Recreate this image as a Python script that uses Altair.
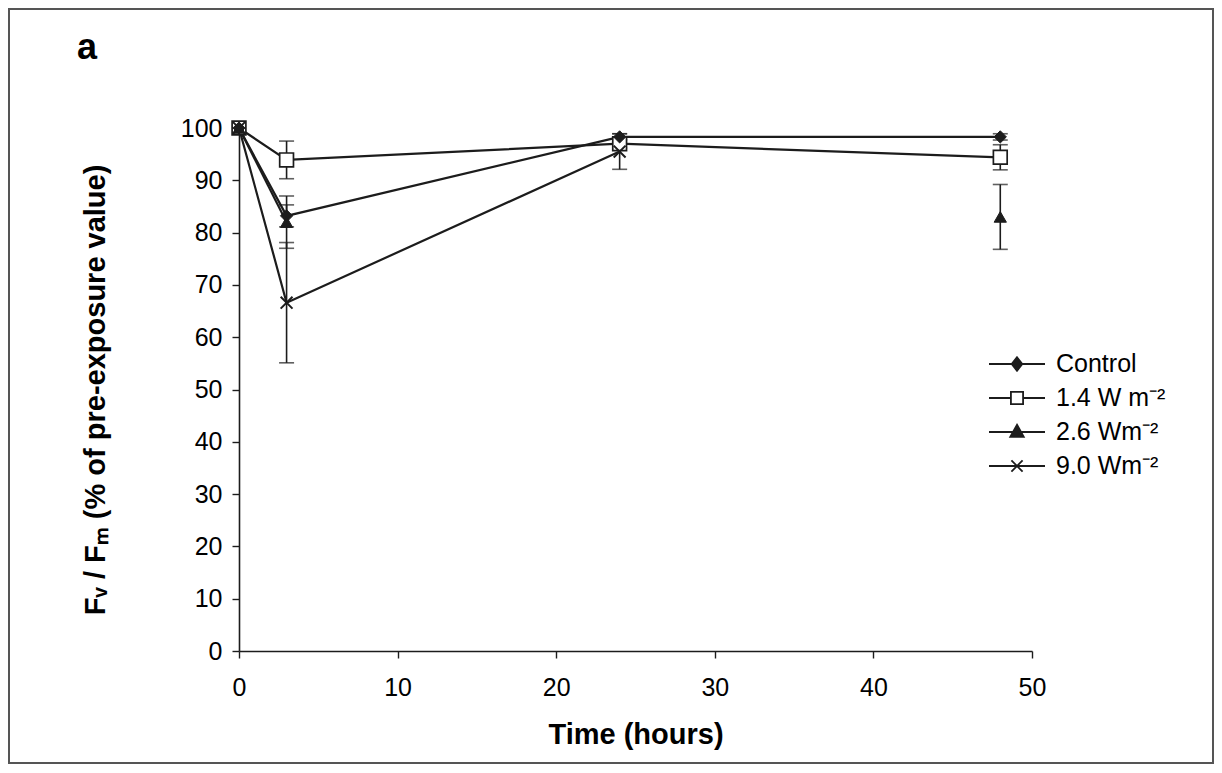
import altair as alt
import pandas as pd

# ---- data ----
times = [0, 3, 24, 48]
series_names = ["Control", "1.4 W m⁻²", "2.6 Wm⁻²", "9.0 Wm⁻²"]
control = [100, 83.2, 98.3, 98.3]
control_err = [0, 2.1, 0.6, 0.6]
w14 = [100, 93.9, 97.0, 94.4]
w14_err = [0, 3.6, 0.8, 2.4]
w26 = [100, 82.0, None, 83.0]
w26_err = [0, 5.0, None, 6.2]
w90 = [100, 66.6, 95.5, None]
w90_err = [0, 11.5, 3.4, None]

values = [control, w14, w26, w90]
errors = [control_err, w14_err, w26_err, w90_err]

rows = []
for name, vals, errs in zip(series_names, values, errors):
    seg = 0
    prev_missing = False
    for t, v, e in zip(times, vals, errs):
        if v is None:
            prev_missing = True
            continue
        if prev_missing:
            seg += 1
            prev_missing = False
        rows.append({"series": name, "time": t, "value": v,
                     "lo": v - e, "hi": v + e, "seg": f"{name}-{seg}"})
df = pd.DataFrame(rows)

INK = "#1c1c1c"
FONT = "Liberation Sans"
X_TITLE = "Time (hours)"
Y_TITLE = "Fᵥ / Fₘ (% of pre-exposure value)"

x_scale = alt.Scale(domain=[0, 50], nice=False, zero=False)
y_scale = alt.Scale(domain=[0, 100], nice=False)
x_axis = alt.Axis(title=X_TITLE, values=[0, 10, 20, 30, 40, 50],
                  titlePadding=20, labelPadding=17, labelFlush=False)
y_axis = alt.Axis(title=Y_TITLE, values=list(range(0, 101, 10)),
                  titlePadding=70, labelPadding=10, labelFlush=False)

base = alt.Chart(df)

lines = base.mark_line(color=INK, strokeWidth=2.2).encode(
    x=alt.X("time:Q", scale=x_scale, axis=x_axis, title=X_TITLE),
    y=alt.Y("value:Q", scale=y_scale, axis=y_axis, title=Y_TITLE),
    detail="seg:N", order="time:Q")

err = base.transform_filter("datum.hi > datum.lo").mark_errorbar(
    ticks={"size": 15, "thickness": 1.6, "color": INK},
    rule={"strokeWidth": 1.6, "color": INK},
).encode(x=alt.X("time:Q", title=X_TITLE),
         y=alt.Y("lo:Q", title=Y_TITLE), y2="hi:Q")

marker_style = {
    "1.4 W m⁻²": dict(shape="square", fill="white", size=190, strokeWidth=1.7),
    "Control": dict(shape="diamond", fill=INK, size=150, strokeWidth=1),
    "2.6 Wm⁻²": dict(shape="triangle-up", fill=INK, size=150, strokeWidth=1),
    "9.0 Wm⁻²": dict(shape="M-1,-1L1,1M-1,1L1,-1", fill="none", size=140, strokeWidth=2),
}
point_layers = []
for name, st in marker_style.items():
    point_layers.append(
        base.transform_filter(alt.datum.series == name).mark_point(
            shape=st["shape"], filled=False, fill=st["fill"], stroke=INK,
            strokeWidth=st["strokeWidth"], size=st["size"], opacity=1,
            fillOpacity=1,
        ).encode(x=alt.X("time:Q", title=X_TITLE), y=alt.Y("value:Q", title=Y_TITLE))
    )

legend_shapes = [
    "M-1.75,0H1.75M0,-0.42L0.33,0L0,0.42L-0.33,0Z",
    "M-1.75,0H-0.38M0.38,0H1.75M-0.38,-0.38H0.38V0.38H-0.38Z",
    "M-1.75,0H1.75M0,-0.45L0.42,0.3H-0.42Z",
    "M-1.75,0H1.75M-0.35,-0.35L0.35,0.35M-0.35,0.35L0.35,-0.35",
]
legend_fills = [INK, "white", INK, "white"]
legend_strokes = [INK, INK, INK, INK]


def make_leg():
    return alt.Legend(
        title=None, orient="none", legendX=761, legendY=219,
        symbolSize=1024, symbolOpacity=1, symbolStrokeColor=INK,
        symbolStrokeWidth=1.8, labelFont=FONT, labelFontSize=25,
        labelColor="black", labelOffset=22, rowPadding=4)


legend_layer = base.mark_point(filled=False, opacity=0, strokeWidth=1.8).encode(
    x=alt.X("time:Q", title=X_TITLE), y=alt.Y("value:Q", title=Y_TITLE),
    shape=alt.Shape("series:N", scale=alt.Scale(domain=series_names, range=legend_shapes),
                    legend=make_leg()),
    fill=alt.Fill("series:N", scale=alt.Scale(domain=series_names, range=legend_fills),
                  legend=make_leg()),
    stroke=alt.Stroke("series:N", scale=alt.Scale(domain=series_names, range=legend_strokes),
                      legend=make_leg()),
)

frame = alt.Chart(pd.DataFrame({"k": [0]})).mark_rect(
    fill=None, stroke="#555", strokeWidth=2).encode(
    x=alt.value(-230), x2=alt.value(974), y=alt.value(-119), y2=alt.value(635))

chart = alt.layer(frame, lines, err, *point_layers, legend_layer).properties(
    width=793, height=523,
    autosize=alt.AutoSizeParams(type="none"),
    padding={"left": 231, "top": 120, "right": 182, "bottom": 114},
    title=alt.TitleParams("a", anchor="start", frame="group", dx=-162, offset=0,
                          dy=87, baseline="alphabetic",
                          fontSize=36, font=FONT, fontWeight="bold", color="black"),
).configure(background="white").configure_view(stroke=None).configure_axis(
    domainColor=INK, domainWidth=1.6, tickColor=INK, tickWidth=1.4, tickSize=7,
    labelFont=FONT, labelFontSize=25, labelColor="black",
    titleFont=FONT, titleFontSize=29, titleFontWeight="bold", titleColor="black",
    grid=False,
)

chart.save("out.html", embed_options={"renderer": "svg", "actions": False})
